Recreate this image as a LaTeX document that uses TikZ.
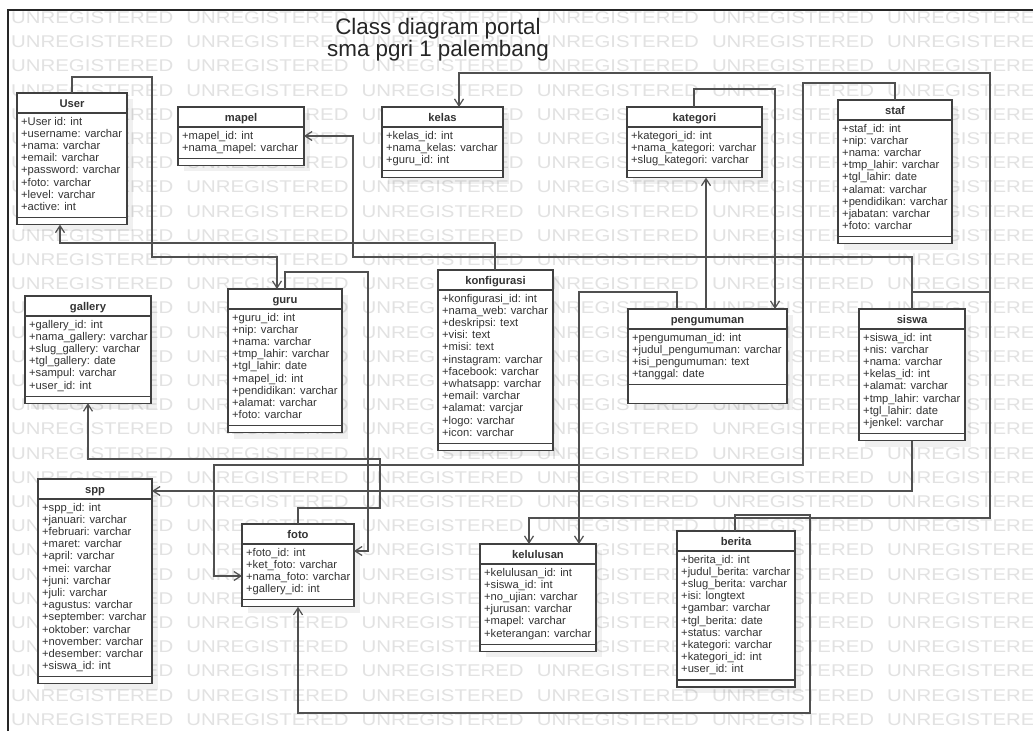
\documentclass[tikz,border=0pt]{standalone}
\usepackage{fontspec}
\setmainfont{Liberation Sans}
\usetikzlibrary{arrows.meta,calc}
\definecolor{wmgray}{HTML}{E2E2E2}
\definecolor{boxc}{HTML}{404040}
\definecolor{linec}{HTML}{505050}
\definecolor{txtc}{HTML}{333333}
\tikzset{
  box/.style={draw=boxc, line width=1.3pt, fill=white, inner sep=0pt, outer sep=0pt},
  boxline/.style={draw=boxc, line width=1.3pt},
  shadowfill/.style={fill=black, opacity=0.06},
  ctitle/.style={font=\bfseries\fontsize{11.2}{12}\selectfont, text=txtc, inner sep=0pt},
  attr/.style={font=\fontsize{11.2}{12}\selectfont, text=txtc, inner sep=0pt},
  conn/.style={draw=linec, line width=1.2pt},
  arr/.style={conn, -{Straight Barb[length=7pt,width=9pt]}},
  wm/.style={text=wmgray, font=\fontsize{17}{17}\selectfont, inner sep=0pt, anchor=base west},
  ttl/.style={font=\fontsize{22.4}{24}\selectfont, text=black!85, inner sep=0pt, anchor=base},
}
\newcommand\umlclass[8]{%
  \pgfmathsetmacro\clsh{20+#6*12.2+7+#7}%
  \fill[shadowfill] ({#2+6},{#3+6}) rectangle ++(#4,\clsh);%
  \node[box, minimum width=#4pt, minimum height=\clsh pt, anchor=north west] (#1) at (#2,#3) {};%
  \draw[boxline] ($(#1.north west)+(0,20)$) -- ($(#1.north east)+(0,20)$);%
  \draw[boxline] ($(#1.south west)+(0,-#7)$) -- ($(#1.south east)+(0,-#7)$);%
  \node[ctitle, anchor=base] (#1-title) at ($(#1.north)+(0,14)$) {#5};%
  \foreach \attrtext [count=\ai from 0] in {#8}{%
    \node[attr, anchor=base west] (#1-a\ai) at ($(#1.north west)+(4,{32+12.2*\ai})$) {\attrtext};%
  }%
}
\begin{document}
\begin{tikzpicture}[x=1pt,y=-1pt]
\useasboundingbox (0,0) rectangle (1033,731);
\fill[white] (0,0) rectangle (1033,731);
\begin{scope}
\clip (0,0) rectangle (1033,731);
\foreach \r in {0,...,29}{\foreach \c in {0,...,5}{%
  \node[wm] (wm-\r-\c) at ({11+175.2*\c},{23.5+24.2*\r}) {\scalebox{1.2}[1]{UNREGISTERED}};}}
\end{scope}
\draw[line width=1.8pt, black!85] (8,731) -- (8,10) -- (1033,10);
\node[ttl] (title1) at (438,34) {Class diagram portal};
\node[ttl] (title2) at (438,56) {sma pgri 1 palembang};

\umlclass{user}{17}{93}{110}{User}{8}{7}{+User id: int,+username: varchar,+nama: varchar,+email: varchar,+password: varchar,+foto: varchar,+level: varchar,+active: int}
\umlclass{mapel}{178}{107}{126}{mapel}{2}{7}{+mapel\_id: int,+nama\_mapel: varchar}
\umlclass{kelas}{382}{107}{121}{kelas}{3}{7}{+kelas\_id: int,+nama\_kelas: varchar,+guru\_id: int}
\umlclass{kategori}{627}{107}{135}{kategori}{3}{7}{+kategori\_id: int,+nama\_kategori: varchar,+slug\_kategori: varchar}
\umlclass{staf}{838}{100}{114}{staf}{9}{7}{+staf\_id: int,+nip: varchar,+nama: varchar,+tmp\_lahir: varchar,+tgl\_lahir: date,+alamat: varchar,+pendidikan: varchar,+jabatan: varchar,+foto: varchar}
\umlclass{gallery}{25}{296}{126}{gallery}{6}{7}{+gallery\_id: int,+nama\_gallery: varchar,+slug\_gallery: varchar,+tgl\_gallery: date,+sampul: varchar,+user\_id: int}
\umlclass{guru}{228}{289}{114}{guru}{9}{7}{+guru\_id: int,+nip: varchar,+nama: varchar,+tmp\_lahir: varchar,+tgl\_lahir: date,+mapel\_id: int,+pendidikan: varchar,+alamat: varchar,+foto: varchar}
\umlclass{konfig}{438}{270}{115}{konfigurasi}{12}{7}{+konfigurasi\_id: int,+nama\_web: varchar,+deskripsi: text,+visi: text,+misi: text,+instagram: varchar,+facebook: varchar,+whatsapp: varchar,+email: varchar,+alamat: varcjar,+logo: varchar,+icon: varchar}
\umlclass{pengumuman}{628}{309}{159}{pengumuman}{4}{19}{+pengumuman\_id: int,+judul\_pengumuman: varchar,+isi\_pengumuman: text,+tanggal: date}
\umlclass{siswa}{859}{309}{106}{siswa}{8}{7}{+siswa\_id: int,+nis: varchar,+nama: varchar,+kelas\_id: int,+alamat: varchar,+tmp\_lahir: varchar,+tgl\_lahir: date,+jenkel: varchar}
\umlclass{spp}{38}{479}{114}{spp}{14}{7}{+spp\_id: int,+januari: varchar,+februari: varchar,+maret: varchar,+april: varchar,+mei: varchar,+juni: varchar,+juli: varchar,+agustus: varchar,+september: varchar,+oktober: varchar,+november: varchar,+desember: varchar,+siswa\_id: int}
\umlclass{foto}{242}{524}{112}{foto}{4}{7}{+foto\_id: int,+ket\_foto: varchar,+nama\_foto: varchar,+gallery\_id: int}
\umlclass{kelulusan}{480}{544}{116}{kelulusan}{6}{7}{+kelulusan\_id: int,+siswa\_id: int,+no\_ujian: varchar,+jurusan: varchar,+mapel: varchar,+keterangan: varchar}
\umlclass{berita}{677}{531}{118}{berita}{10}{7}{+berita\_id: int,+judul\_berita: varchar,+slug\_berita: varchar,+isi: longtext,+gambar: varchar,+tgl\_berita: date,+status: varchar,+kategori: varchar,+kategori\_id: int,+user\_id: int}

% connectors
\draw[arr] ($(user.north west)+(55,0)$) |- (152,77) -- (152,257) -| ($(guru.north west)+(49,0)$);
\draw[arr] ($(konfig.north west)+(57,0)$) |- (60,243) -- ($(user.south west)+(43,0)$);
\draw[arr] ($(siswa.north west)+(53,0)$) |- (353,257) |- ($(mapel.north east)+(0,29)$);
\draw[arr] ($(siswa.north west)+(53,0)$) |- (990,292) |- (459,73) -- ($(kelas.north west)+(77,0)$);
\draw[arr] ($(siswa.north west)+(53,0)$) |- (990,292) |- (529,518) -- ($(kelulusan.north west)+(49,0)$);
\draw[arr] ($(staf.north west)+(57,0)$) |- (803,83) |- (214,465) |- ($(foto.north west)+(0,52)$);
\draw[arr] ($(kategori.north west)+(67,0)$) |- (775,89) -- ($(pengumuman.north west)+(147,0)$);
\draw[arr] ($(pengumuman.north west)+(78,0)$) -- ($(kategori.south west)+(79,0)$);
\draw[arr] ($(pengumuman.north west)+(49,0)$) |- (579,292) -- ($(kelulusan.north west)+(99,0)$);
\draw[arr] ($(guru.north west)+(57,0)$) |- (368,272) |- ($(foto.north east)+(0,27)$);
\draw[arr] ($(foto.north west)+(56,0)$) |- (380,508) |- (88,459) -- ($(gallery.south west)+(63,0)$);
\draw[arr] ($(siswa.south west)+(53,0)$) |- ($(spp.north east)+(0,12)$);
\draw[arr] ($(berita.north west)+(58,0)$) |- (810,515) |- (298,713) -- ($(foto.south west)+(56,0)$);
\end{tikzpicture}
\end{document}
